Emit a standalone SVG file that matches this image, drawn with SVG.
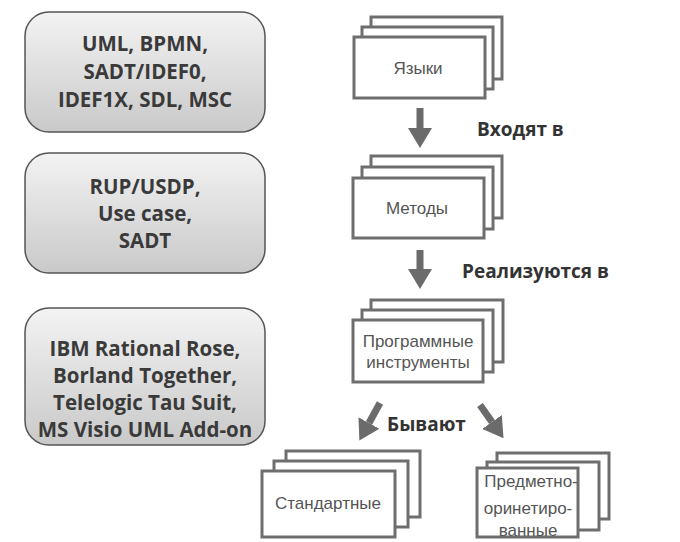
<svg xmlns="http://www.w3.org/2000/svg" width="680" height="542" viewBox="0 0 680 542">
<defs>
<linearGradient id="g" x1="0" y1="0" x2="0" y2="1">
<stop offset="0" stop-color="#f3f3f3"/>
<stop offset="1" stop-color="#c9c9c9"/>
</linearGradient>
<marker id="ah" markerUnits="userSpaceOnUse" markerWidth="20" markerHeight="24" viewBox="0 0 20 24" refX="0" refY="12" orient="auto">
<path d="M0,0 L20,12 L0,24 Z" fill="#6b6b6b"/>
</marker>
</defs>
<style>
.lb{fill:url(#g);stroke:#555;stroke-width:1.5}
.lt{font-family:"Open Sans","Liberation Sans",sans-serif;font-weight:bold;font-size:20.5px;fill:#3a3a3a;text-anchor:middle}
.card{fill:#fff;stroke:#6e6e6e;stroke-width:3}
.ct{font-family:"Liberation Sans",Arial,sans-serif;font-size:17px;fill:#555;text-anchor:middle}
.et{font-family:"Open Sans","Liberation Sans",sans-serif;font-weight:bold;font-size:19px;fill:#333}
.ar{stroke:#6b6b6b;stroke-width:7;fill:none;marker-end:url(#ah)}
</style>
<rect width="680" height="542" fill="#fff"/>

<g id="box-languages">
<rect class="lb" x="25" y="12" width="240" height="120" rx="24"/>
<text class="lt" x="145" y="51">UML, BPMN,</text>
<text class="lt" x="145" y="79">SADT/IDEF0,</text>
<text class="lt" x="145" y="107">IDEF1X, SDL, MSC</text>
</g>
<g id="box-methods">
<rect class="lb" x="25" y="153" width="240" height="120" rx="24"/>
<text class="lt" x="145" y="194">RUP/USDP,</text>
<text class="lt" x="145" y="221">Use case,</text>
<text class="lt" x="145" y="248">SADT</text>
</g>
<g id="box-tools">
<rect class="lb" x="25" y="308" width="240" height="137" rx="24"/>
<text class="lt" x="145" y="356">IBM Rational Rose,</text>
<text class="lt" x="145" y="383">Borland Together,</text>
<text class="lt" x="145" y="410">Telelogic Tau Suit,</text>
<text class="lt" x="145" y="437">MS Visio UML Add-on</text>
</g>

<g id="node-languages">
<rect class="card" x="371" y="17" width="131" height="62"/>
<rect class="card" x="362" y="27" width="131" height="62"/>
<rect class="card" x="354" y="37" width="131" height="61"/>
<text class="ct" x="418" y="74">Языки</text>
</g>
<g id="node-methods">
<rect class="card" x="371" y="156" width="131" height="62"/>
<rect class="card" x="362" y="167" width="131" height="62"/>
<rect class="card" x="353" y="178" width="131" height="60"/>
<text class="ct" x="417" y="214">Методы</text>
</g>
<g id="node-instruments">
<rect class="card" x="371" y="300" width="132" height="62"/>
<rect class="card" x="362" y="310" width="131" height="62"/>
<rect class="card" x="353" y="320" width="130" height="62"/>
<text class="ct" x="418" y="347">Программные</text>
<text class="ct" x="418" y="368">инструменты</text>
</g>
<g id="node-standard">
<rect class="card" x="286" y="451" width="134" height="66"/>
<rect class="card" x="274" y="461" width="134" height="66"/>
<rect class="card" x="262" y="471" width="133" height="66"/>
<text class="ct" x="328" y="509">Стандартные</text>
</g>
<g id="node-domain">
<rect class="card" x="497" y="453" width="112" height="66"/>
<rect class="card" x="487" y="462" width="112" height="68"/>
<rect class="card" x="477" y="468" width="101" height="69"/>
<text class="ct" x="531" y="487">Предметно-</text>
<text class="ct" x="528" y="514">оринетиро-</text>
<text class="ct" x="528" y="536">ванные</text>
</g>

<g id="connectors">
<line class="ar" x1="420" y1="108" x2="420" y2="128"/>
<line class="ar" x1="420" y1="250" x2="420" y2="269"/>
<line class="ar" x1="380" y1="403" x2="369" y2="423"/>
<line class="ar" x1="480" y1="405" x2="492" y2="422"/>
</g>
<g id="edge-labels">
<text class="et" x="477" y="136">Входят в</text>
<text class="et" x="462" y="278">Реализуются в</text>
<text class="et" x="387" y="431">Бывают</text>
</g>
</svg>
